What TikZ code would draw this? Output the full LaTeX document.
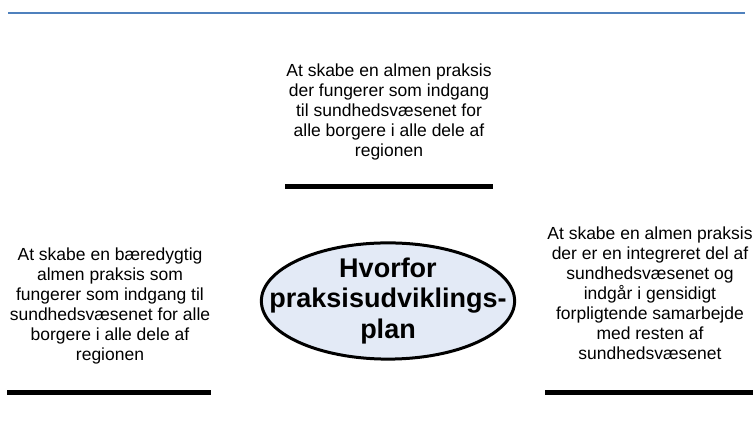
\documentclass[tikz,border=0pt]{standalone}
\usepackage{fontspec}
\setmainfont{Liberation Sans}
\usepackage{tikz}
\usetikzlibrary{positioning, shapes}
\definecolor{ruleblue}{HTML}{4F81BD}
\definecolor{lightblue}{HTML}{E3EAF6}
\tikzstyle{goal} = [align=center, inner sep=0pt, anchor=north,
    font=\fontsize{17.5}{20}\selectfont]
\tikzstyle{bar} = [draw, line width=5pt]
\tikzstyle{hub} = [ellipse, draw, line width=3pt, fill=lightblue,
    inner xsep=-29pt, inner ysep=-2pt, align=center,
    font=\bfseries\fontsize{27}{30.5}\selectfont]

\begin{document}
\begin{tikzpicture}[x=1pt, y=1pt]
      \useasboundingbox (0,0) rectangle (753,446);
      % Top rule
      \draw [ruleblue, line width=2pt] (8,433) -- (745,433);

      % Place nodes
      \node [hub] (why) at (388,145) {Hvorfor\\praksisudviklings-\\plan};

      \node [goal] (access) at (389,382)
        {At skabe en almen praksis\\der fungerer som indgang\\til sundhedsvæsenet for\\alle borgere i alle dele af\\regionen};
      \path [bar] (285,259) -- (493,259);

      \node [goal] (durable) at (110,198)
        {At skabe en bæredygtig\\almen praksis som\\fungerer som indgang til\\sundhedsvæsenet for alle\\borgere i alle dele af\\regionen};
      \path [bar] (7,53) -- (211,53);

      \node [goal] (integrated) at (650,219)
        {At skabe en almen praksis\\der er en integreret del af\\sundhedsvæsenet og\\indgår i gensidigt\\forpligtende samarbejde\\med resten af\\sundhedsvæsenet};
      \path [bar] (545,53) -- (753,53);
\end{tikzpicture}
\end{document}
